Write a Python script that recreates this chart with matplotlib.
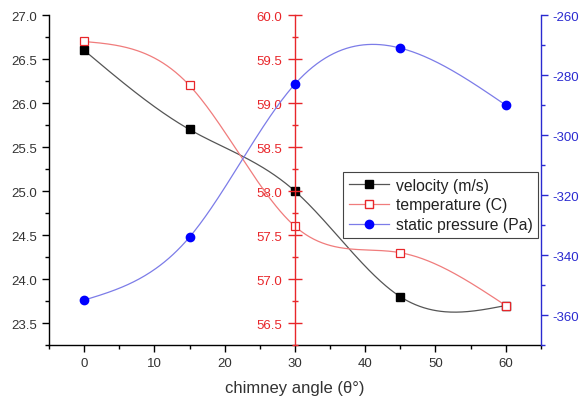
import numpy as np
import matplotlib
matplotlib.use('Agg')
import matplotlib.pyplot as plt
from matplotlib.lines import Line2D
from matplotlib.ticker import MultipleLocator

plt.rcParams['font.family'] = ['Liberation Sans', 'DejaVu Sans']
plt.rcParams['axes.unicode_minus'] = False

# chimney angle vs. velocity / temperature / static pressure
angle = [0, 15, 30, 45, 60]
velocity = [26.6, 25.7, 25.0, 23.8, 23.7]
temperature = [59.7, 59.2, 57.6, 57.3, 56.7]
pressure = [-355, -334, -283, -271, -290]


def spline(x, y, n=300):
    # natural cubic spline through the points, for the smooth connecting lines
    x = np.asarray(x, float)
    y = np.asarray(y, float)
    h = np.diff(x)
    m = len(x)
    A = np.zeros((m, m))
    r = np.zeros(m)
    A[0, 0] = A[-1, -1] = 1
    for i in range(1, m - 1):
        A[i, i - 1] = h[i - 1]
        A[i, i] = 2 * (h[i - 1] + h[i])
        A[i, i + 1] = h[i]
        r[i] = 6 * ((y[i + 1] - y[i]) / h[i] - (y[i] - y[i - 1]) / h[i - 1])
    M = np.linalg.solve(A, r)
    xs = np.linspace(x[0], x[-1], n)
    k = np.clip(np.searchsorted(x, xs) - 1, 0, m - 2)
    hk = h[k]
    a = (x[k + 1] - xs) / hk
    b = (xs - x[k]) / hk
    ys = a * y[k] + b * y[k + 1] + ((a ** 3 - a) * M[k] + (b ** 3 - b) * M[k + 1]) * hk ** 2 / 6
    return xs, ys


RED = '#e8262a'
BLUE = '#2a2ad0'
TXT = '#333333'

fig = plt.figure(figsize=(5.8, 4.02), dpi=100)
ax = fig.add_axes([0.0845, 0.139, 0.848, 0.821])
ax_t = ax.twinx()
ax_p = ax.twinx()

# velocity, left axis
xs, ys = spline(angle, velocity)
ax.plot(xs, ys, color='#555555', lw=0.9)
ax.plot(angle, velocity, 's', color='black', ms=5.5)
ax.set_xlim(-5, 65)
ax.set_ylim(23.25, 27.0)
ax.xaxis.set_major_locator(MultipleLocator(10))
ax.xaxis.set_minor_locator(MultipleLocator(5))
ax.yaxis.set_major_locator(MultipleLocator(0.5))
ax.yaxis.set_minor_locator(MultipleLocator(0.25))
ax.yaxis.set_major_formatter(matplotlib.ticker.FormatStrFormatter('%.1f'))
ax.tick_params(which='major', direction='out', length=5, width=1, labelsize=9.5, labelcolor=TXT)
ax.tick_params(which='minor', direction='out', length=3, width=1)
ax.spines['top'].set_visible(False)
ax.spines['right'].set_visible(False)
for s in ('left', 'bottom'):
    ax.spines[s].set_linewidth(1.0)
ax.set_xlabel('chimney angle (\u03b8\u00b0)', fontsize=12, color=TXT, labelpad=8)

# temperature, red axis placed at 30 degrees
xs, ys = spline(angle, temperature)
ax_t.plot(xs, ys, color='#f07c7c', lw=0.9)
ax_t.plot(angle, temperature, 's', mfc='white', mec=RED, mew=0.9, ms=5.5)
ax_t.set_ylim(56.25, 60.0)
ax_t.spines['left'].set_position(('data', 30))
ax_t.spines['left'].set_color(RED)
ax_t.spines['left'].set_linewidth(1.0)
for s in ('top', 'right', 'bottom'):
    ax_t.spines[s].set_visible(False)
ax_t.yaxis.set_ticks_position('left')
ax_t.yaxis.set_label_position('left')
ax_t.yaxis.set_major_locator(MultipleLocator(0.5))
ax_t.yaxis.set_minor_locator(MultipleLocator(0.25))
ax_t.yaxis.set_major_formatter(matplotlib.ticker.FormatStrFormatter('%.1f'))
ax_t.tick_params(which='major', direction='inout', length=10, width=1, color=RED,
                 labelsize=9.5, labelcolor=RED, pad=4)
ax_t.tick_params(which='minor', direction='inout', length=5, width=1, color=RED)

# static pressure, right axis
xs, ys = spline(angle, pressure)
ax_p.plot(xs, ys, color='#7c7ce8', lw=0.9)
ax_p.plot(angle, pressure, 'o', color='#0000ff', ms=6)
ax_p.set_ylim(-370, -260)
ax_p.yaxis.set_major_locator(MultipleLocator(20))
ax_p.yaxis.set_minor_locator(MultipleLocator(10))
ax_p.spines['right'].set_color(BLUE)
ax_p.spines['right'].set_linewidth(1.0)
for s in ('top', 'left', 'bottom'):
    ax_p.spines[s].set_visible(False)
ax_p.tick_params(which='major', direction='out', length=5, width=1, color=BLUE,
                 labelsize=9.5, labelcolor=BLUE, pad=3)
ax_p.tick_params(which='minor', direction='out', length=3, width=1, color=BLUE)

handles = [
    Line2D([], [], color='#555555', lw=0.9, marker='s', mfc='black', mec='black', ms=5.5),
    Line2D([], [], color='#f07c7c', lw=0.9, marker='s', mfc='white', mec=RED, ms=5.5),
    Line2D([], [], color='#7c7ce8', lw=0.9, marker='o', mfc='#0000ff', mec='#0000ff', ms=6),
]
labels = ['velocity (m/s)', 'temperature (C)', 'static pressure (Pa)']
leg = ax_p.legend(handles, labels, loc='upper left', bbox_to_anchor=(0.598, 0.524),
                  borderaxespad=0, fontsize=11.3, frameon=True, fancybox=False,
                  edgecolor='#444444', framealpha=1, handlelength=2.6,
                  handletextpad=0.4, labelspacing=0.3, borderpad=0.35)
leg.get_frame().set_linewidth(0.8)
for t in leg.get_texts():
    t.set_color('#222222')

fig.savefig('out.png', dpi=100)
